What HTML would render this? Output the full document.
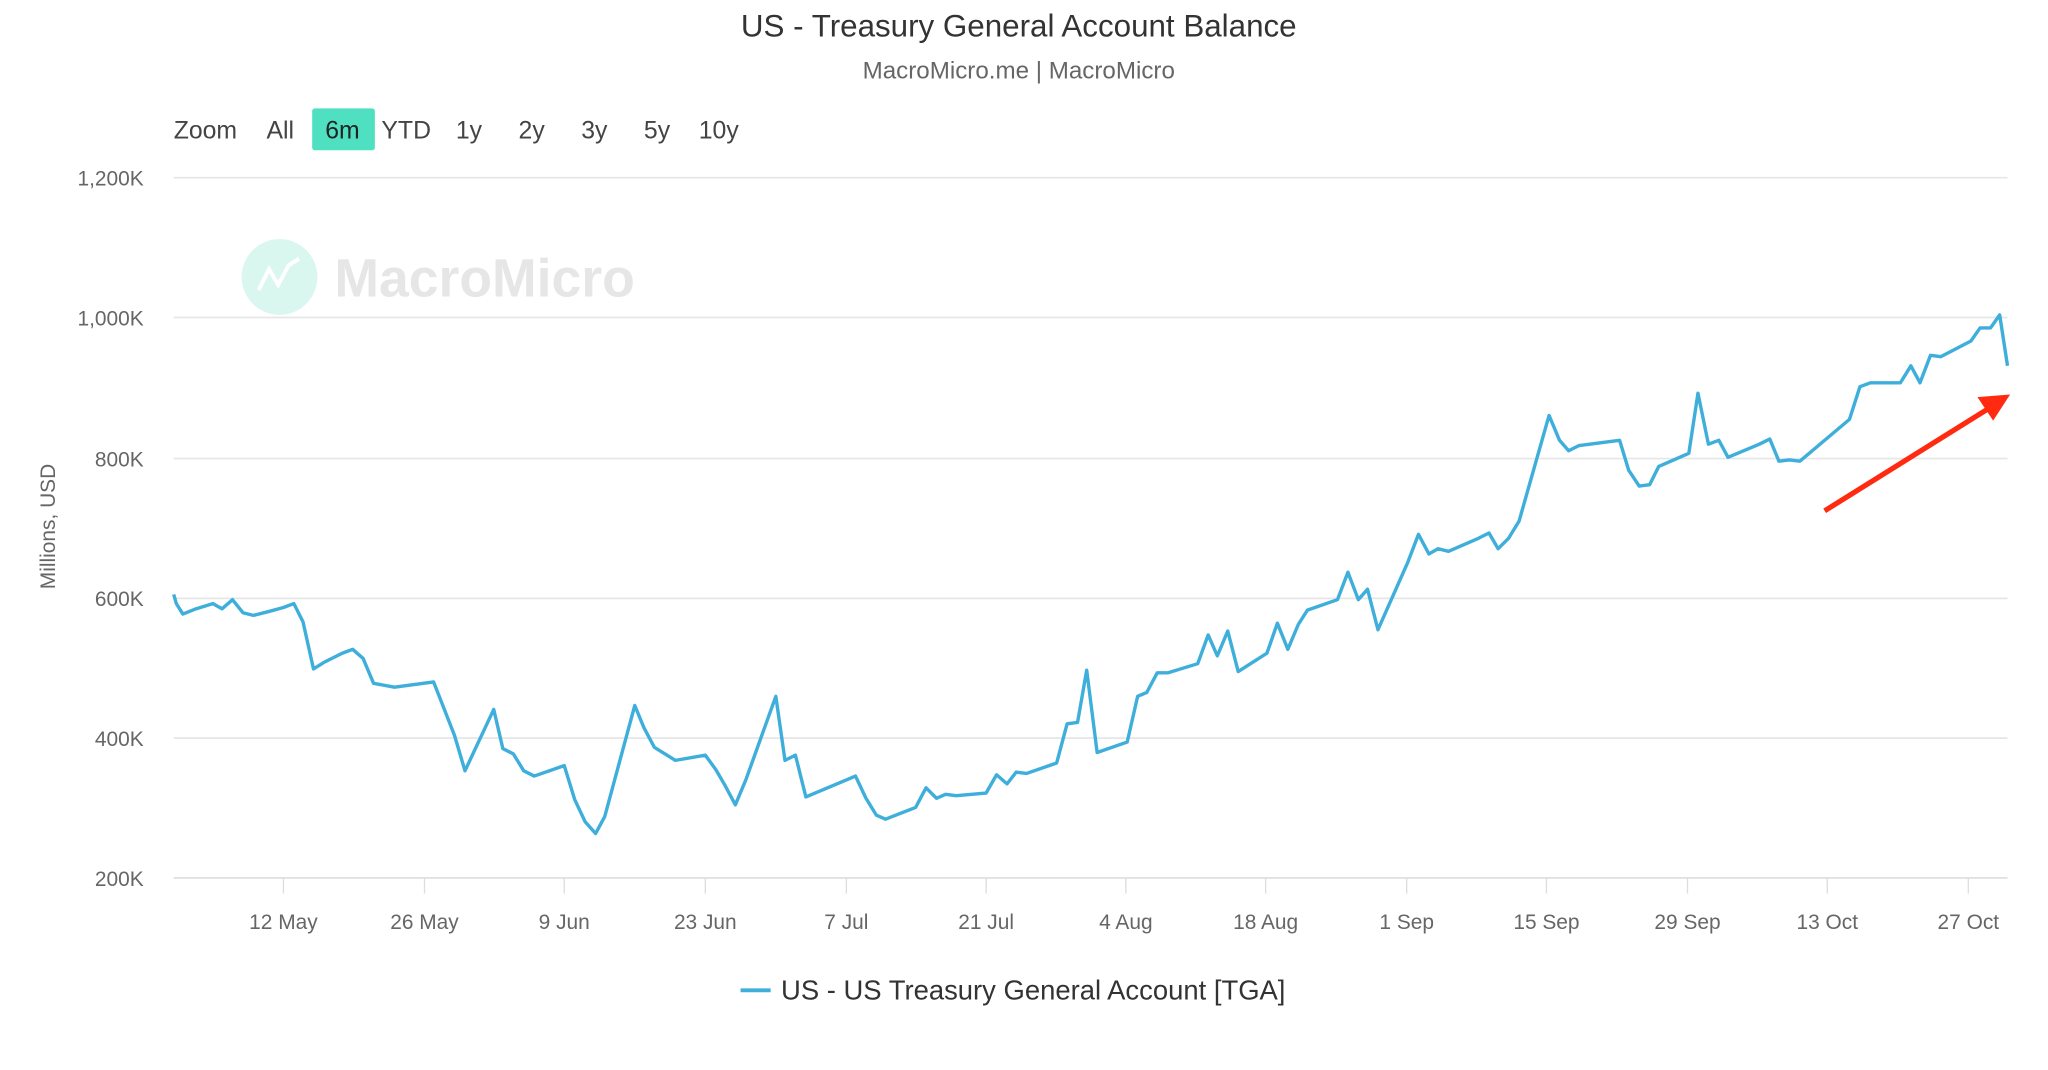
<!DOCTYPE html>
<html><head><meta charset="utf-8"><style>html,body{margin:0;padding:0;background:#fff;}svg{display:block}</style></head>
<body>
<svg width="2048" height="1070" viewBox="0 0 1568 819" preserveAspectRatio="none" xmlns="http://www.w3.org/2000/svg" font-family="Liberation Sans, sans-serif">
<rect width="1568" height="819" fill="#fff"/>
<text x="780" y="28" text-anchor="middle" font-size="24" fill="#333">US - Treasury General Account Balance</text>
<text x="780" y="60" text-anchor="middle" font-size="18.5" fill="#666">MacroMicro.me | MacroMicro</text>
<rect x="239" y="83" width="48" height="32" rx="2" fill="#4fe0c2"/>
<g font-size="19" fill="#444">
<text x="133" y="106">Zoom</text><text x="204" y="106">All</text><text x="249" y="106" fill="#222">6m</text><text x="292" y="106">YTD</text><text x="349" y="106">1y</text><text x="397" y="106">2y</text><text x="445" y="106">3y</text><text x="493" y="106">5y</text><text x="535" y="106">10y</text>
</g>
<g stroke="#e6e6e6" stroke-width="1.3">
<line x1="133" x2="1537" y1="136" y2="136"/><line x1="133" x2="1537" y1="243" y2="243"/><line x1="133" x2="1537" y1="351" y2="351"/><line x1="133" x2="1537" y1="458" y2="458"/><line x1="133" x2="1537" y1="565" y2="565"/><line x1="133" x2="1537" y1="672" y2="672" stroke="#ddd"/>
</g>
<g stroke="#ddd" stroke-width="1">
<line x1="217" x2="217" y1="672" y2="684"/><line x1="325" x2="325" y1="672" y2="684"/><line x1="432" x2="432" y1="672" y2="684"/><line x1="540" x2="540" y1="672" y2="684"/><line x1="648" x2="648" y1="672" y2="684"/><line x1="755" x2="755" y1="672" y2="684"/><line x1="862" x2="862" y1="672" y2="684"/><line x1="969" x2="969" y1="672" y2="684"/><line x1="1077" x2="1077" y1="672" y2="684"/><line x1="1184" x2="1184" y1="672" y2="684"/><line x1="1292" x2="1292" y1="672" y2="684"/><line x1="1399" x2="1399" y1="672" y2="684"/><line x1="1507" x2="1507" y1="672" y2="684"/>
</g>
<g font-size="16" fill="#666" text-anchor="end">
<text x="110" y="142">1,200K</text><text x="110" y="249">1,000K</text><text x="110" y="357">800K</text><text x="110" y="464">600K</text><text x="110" y="571">400K</text><text x="110" y="678">200K</text>
</g>
<text transform="translate(42,403) rotate(-90)" text-anchor="middle" font-size="16" fill="#666">Millions, USD</text>
<g font-size="16" fill="#666" text-anchor="middle">
<text x="217" y="711">12 May</text><text x="325" y="711">26 May</text><text x="432" y="711">9 Jun</text><text x="540" y="711">23 Jun</text><text x="648" y="711">7 Jul</text><text x="755" y="711">21 Jul</text><text x="862" y="711">4 Aug</text><text x="969" y="711">18 Aug</text><text x="1077" y="711">1 Sep</text><text x="1184" y="711">15 Sep</text><text x="1292" y="711">29 Sep</text><text x="1399" y="711">13 Oct</text><text x="1507" y="711">27 Oct</text>
</g>
<circle cx="214" cy="212" r="29" fill="#d9f7ef"/>
<polyline points="198,222 206,206 213,218 221,203 229,198" fill="none" stroke="#fff" stroke-width="3"/>
<text x="256" y="227" font-size="41" font-weight="bold" fill="#e6e6e6">MacroMicro</text>
<polyline fill="none" stroke="#3eaedb" stroke-width="2.6" stroke-linejoin="round" points="133,455 135,462 140,470 150,466 163,462 170,466 178,459 186,469 194,471 206,468 217,465 225,462 232,476 240,512 248,507 262,500 270,497 278,504 286,523 302,526 332,522 348,563 356,590 378,543 385,573 393,577 401,590 409,594 432,586 440,612 448,629 456,638 463,625 486,540 493,557 501,572 517,582 540,578 548,589 555,601 563,616 571,597 594,533 601,582 609,578 617,610 648,597 655,594 663,611 671,624 678,627 701,618 709,603 717,611 724,608 732,609 755,607 763,593 771,600 778,591 786,592 809,584 817,554 825,553 832,513 840,576 863,568 871,533 878,530 886,515 894,515 917,508 925,486 932,502 940,483 948,514 970,500 978,477 986,497 994,478 1001,467 1024,459 1032,438 1040,459 1047,451 1055,482 1078,430 1086,409 1094,424 1101,420 1109,422 1132,412 1140,408 1147,420 1155,412 1163,399 1186,318 1194,337 1201,345 1209,341 1240,337 1247,360 1255,372 1263,371 1270,357 1293,347 1300,301 1308,340 1316,337 1323,350 1347,340 1355,336 1362,353 1370,352 1378,353 1416,321 1424,296 1432,293 1455,293 1463,280 1470,293 1478,272 1486,273 1509,261 1516,251 1524,251 1531,241 1537,280"/>
<line x1="1397" y1="391" x2="1522" y2="313" stroke="#ff2a10" stroke-width="4"/>
<polygon points="1539,302 1514,304 1526,322" fill="#ff2a10"/>
<line x1="567" x2="590" y1="758" y2="758" stroke="#3eaedb" stroke-width="3"/>
<text x="598" y="765" font-size="21" fill="#333">US - US Treasury General Account [TGA]</text>
</svg>
</body></html>
